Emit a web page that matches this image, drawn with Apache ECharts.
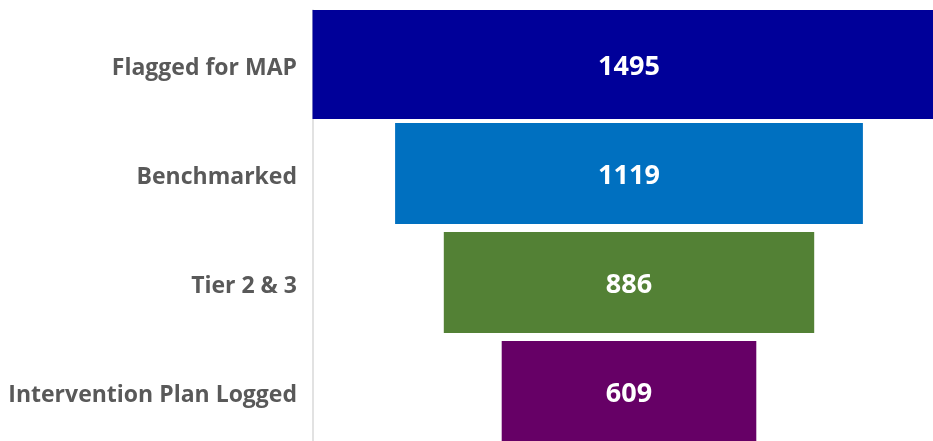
<!DOCTYPE html>
<html>
<head>
<meta charset="utf-8">
<script src="https://cdn.jsdelivr.net/npm/echarts@6/dist/echarts.min.js"></script>
<style>
  html, body { margin: 0; padding: 0; background: #fff; overflow: hidden; }
  /* plot runs a little past the window, the widest bar gets cut off on the right */
  #chart { width: 945px; height: 446px; }
</style>
</head>
<body>
<div id="chart"></div>
<script>
const categories = ["Flagged for MAP", "Benchmarked", "Tier 2 & 3", "Intervention Plan Logged"];
const values = [1495, 1119, 886, 609];
const colors = ["#000099", "#0070C0", "#538135", "#660066"];

const maxValue = Math.max(...values);
// small room on both sides so the top step can stick out a little
const pad = maxValue * 7 / 1250;

const BAR_H = 101;

// funnel step: centred on maxValue / 2, width from the value
function renderStep(params, api) {
  const cat = api.value(0);
  const v = api.value(1);
  const l = api.coord([(maxValue - v) / 2, cat]);
  const r = api.coord([(maxValue + v) / 2, cat]);
  const grow = cat === 0 ? 4 : 0;
  return {
    type: "group",
    children: [
      {
        type: "rect",
        shape: {
          x: l[0] - grow,
          y: l[1] - BAR_H / 2 - grow,
          width: r[0] - l[0] + grow * 2,
          height: BAR_H + grow * 2
        },
        style: { fill: colors[cat] }
      },
      {
        type: "text",
        style: {
          text: String(v),
          x: (l[0] + r[0]) / 2,
          y: l[1] + 3,
          align: "center",
          verticalAlign: "middle",
          fill: "#fff",
          font: 'bold 27px "Open Sans"'
        }
      }
    ]
  };
}

const chart = echarts.init(document.getElementById("chart"));
chart.setOption({
  animation: false,
  grid: { left: 313, right: 0, top: 10, bottom: 0 },
  xAxis: {
    type: "value",
    min: -pad,
    max: maxValue + pad,
    show: false
  },
  yAxis: {
    type: "category",
    inverse: true,
    data: categories,
    axisLine: { show: true, onZero: false, lineStyle: { color: "#D9D9D9", width: 1.5 } },
    axisTick: { show: false },
    axisLabel: {
      margin: 16,
      // nudges the text a few px below the row centre
      verticalAlign: "top",
      lineHeight: 8,
      color: "#595959",
      fontFamily: "Open Sans",
      fontWeight: "bold",
      fontSize: 23
    }
  },
  series: [
    {
      type: "custom",
      renderItem: renderStep,
      encode: { x: 1, y: 0 },
      z: 3,
      data: values.map((v, i) => [i, v])
    }
  ]
});
</script>
</body>
</html>
